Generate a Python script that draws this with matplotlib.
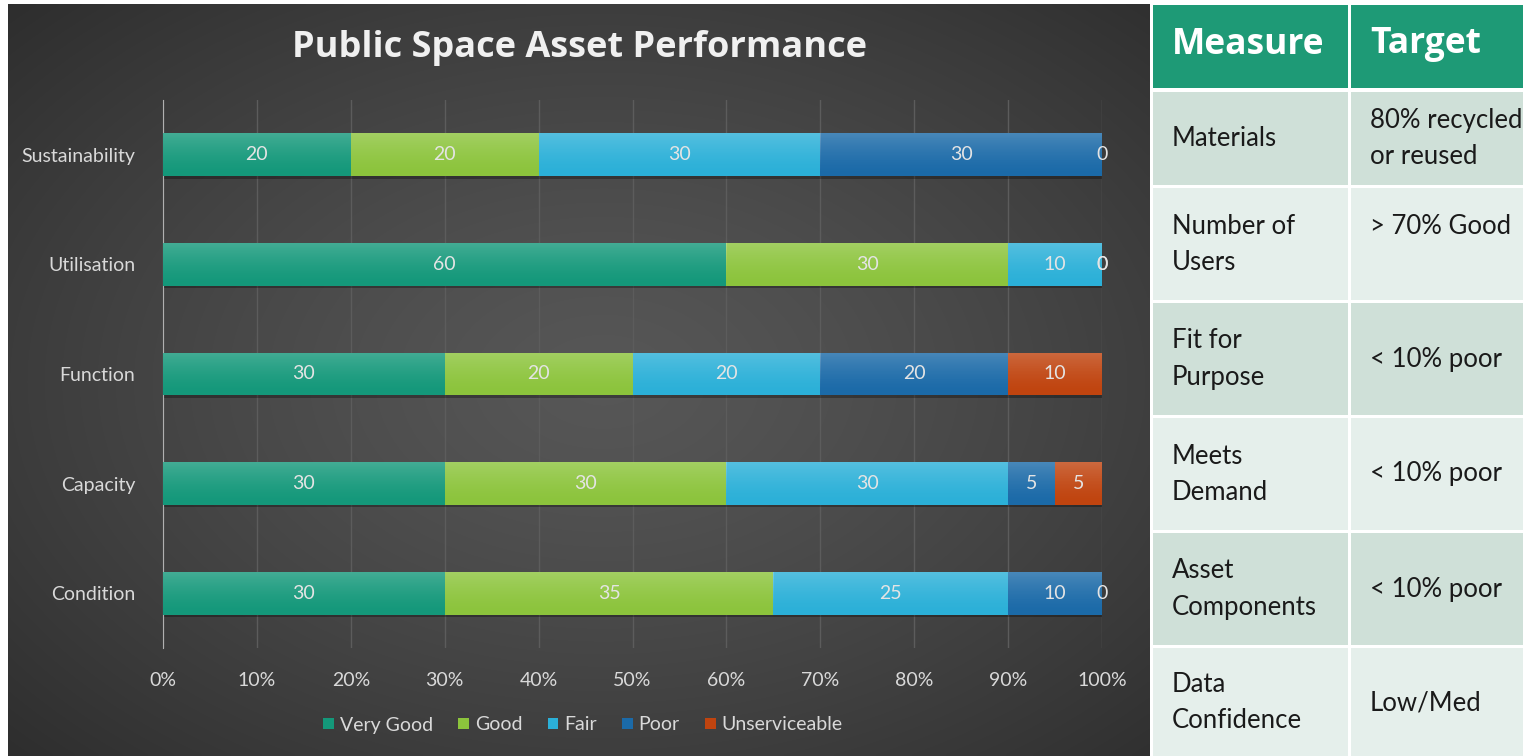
""" Public Space Asset Performance - stacked bar + targets table """

import numpy as np
import matplotlib.pyplot as plt
from matplotlib.patches import Rectangle


# * Datos del grafico
categorias = ['Sustainability', 'Utilisation', 'Function', 'Capacity', 'Condition']
very_good = [20, 60, 30, 30, 30]
good = [20, 30, 20, 30, 35]
fair = [30, 10, 20, 30, 25]
poor = [30, 0, 20, 5, 10]
unserviceable = [0, 0, 10, 5, 0]

series = ['Very Good', 'Good', 'Fair', 'Poor', 'Unserviceable']
colores = ['#14987a', '#8cc43c', '#2bb0d8', '#1b6aa8', '#c0440f']

ticks_x = [0, 10, 20, 30, 40, 50, 60, 70, 80, 90, 100]

# * Datos de la tabla
medidas = ['Materials', 'Number of\nUsers', 'Fit for\nPurpose', 'Meets\nDemand',
           'Asset\nComponents', 'Data\nConfidence']
objetivos = ['80% recycled\nor reused', '> 70% Good', '< 10% poor', '< 10% poor',
             '< 10% poor', 'Low/Med']
objetivo_arriba = [False, True, False, False, False, False]  # alineado con la 1a linea


W, H = 1523, 756
fig = plt.figure(figsize=(W / 100, H / 100), dpi=100, facecolor='white')

# * Fondo en coordenadas de pixel
bg = fig.add_axes([0, 0, 1, 1])
bg.set_xlim(0, W)
bg.set_ylim(H, 0)
bg.axis('off')

# gradiente radial del panel oscuro
px0, px1, py0, py1 = 8, 1150, 4, 756
yy, xx = np.mgrid[0:200, 0:300]
cx, cy = 300 * 0.52, 200 * 0.5
dist = np.sqrt(((xx - cx) / 300) ** 2 + ((yy - cy) / 200) ** 2)
dist = np.clip(dist / 0.72, 0, 1)
val = 0.34 - 0.16 * dist ** 1.3
img = np.dstack([val, val, val])
bg.imshow(img, extent=(px0, px1, py1, py0), aspect='auto', interpolation='bilinear', zorder=0)

# tabla
col_x = [1153, 1351]
col_w = [195, 180]
header_top, header_h = 5, 83
row_tops = [92, 188, 303, 418, 533, 648]
row_hs = [93, 112, 112, 112, 112, 110]
fill_rows = ['#cfe0d8', '#e5efeb']
interlinea = 1.55

for j, head in enumerate(['Measure', 'Target']):
    bg.add_patch(Rectangle((col_x[j], header_top), col_w[j], header_h,
                           facecolor='#1e9a76', edgecolor='none', zorder=1))
    bg.text(col_x[j] + 19, header_top + header_h / 2 - 2, head, color='white',
            fontsize=25.5, fontweight='bold', family='Open Sans', va='center', ha='left', zorder=2)

for i, (m, t) in enumerate(zip(medidas, objetivos)):
    for j, texto in enumerate([m, t]):
        bg.add_patch(Rectangle((col_x[j], row_tops[i]), col_w[j], row_hs[i],
                               facecolor=fill_rows[i % 2], edgecolor='none', zorder=1))
        yc = row_tops[i] + row_hs[i] / 2
        if j == 1 and objetivo_arriba[i]:
            yc = yc - 18
        bg.text(col_x[j] + 19, yc, texto, color='#1a1a1a',
                fontsize=18.5, family='Lato', va='center', ha='left',
                linespacing=interlinea, zorder=2)

bg.text(580, 48, 'Public Space Asset Performance', color='#f0f0f0', fontsize=26,
        fontweight='bold', family='Open Sans', ha='center', va='center', zorder=3)


# * Grafico de barras
ax = fig.add_axes([163 / W, (H - 648) / H, (1102 - 163) / W, (648 - 100) / H])
ax.set_facecolor('none')
ypos = np.arange(len(categorias))
alto = 0.39
izq = np.zeros(len(categorias))
valores = [very_good, good, fair, poor, unserviceable]

# sombra debajo de las barras
ax.barh(ypos + 0.022, [100] * len(categorias), height=alto, color='black', alpha=0.3, zorder=2)

brillo = np.linspace(1, 0, 64).reshape(-1, 1)
brillo_rgba = np.zeros((64, 1, 4))
brillo_rgba[..., :3] = 1.0
brillo_rgba[..., 3] = 0.2 * brillo ** 1.5

for nombre, vals, col in zip(series, valores, colores):
    barras = ax.barh(ypos, vals, left=izq, height=alto, color=col, label=nombre, zorder=3)
    for b in barras:
        if b.get_width() > 0:
            x0 = b.get_x()
            y0 = b.get_y()
            im = ax.imshow(brillo_rgba, extent=(x0, x0 + b.get_width(), y0 + alto, y0),
                           origin='upper', aspect='auto', interpolation='bilinear', zorder=3.5)
            im.set_clip_path(b)
    ax.bar_label(barras, labels=[str(v) for v in vals], label_type='center',
                 color='#e4e4e4', fontsize=14, family='Lato', zorder=4)
    izq = izq + np.array(vals)

ax.set_xlim(0, 100)
ax.set_ylim(len(categorias) - 0.5, -0.5)
ax.set_aspect('auto')
ax.set_xticks(ticks_x)
ax.set_xticklabels([f'{t}%' for t in ticks_x], color='#d9d9d9', fontsize=14, family='Lato')
ax.set_yticks(ypos)
ax.set_yticklabels(categorias, color='#d9d9d9', fontsize=14, family='Lato')
ax.tick_params(axis='x', length=0, pad=17)
ax.tick_params(axis='y', length=0, pad=20)
ax.grid(axis='x', color='#5c5c5c', linewidth=1, zorder=0)
for s in ['top', 'right', 'bottom']:
    ax.spines[s].set_visible(False)
ax.spines['left'].set_color('#b0b0b0')

leg = fig.legend(loc='center', bbox_to_anchor=(583 / W, (H - 725) / H), ncol=5, frameon=False,
                 handlelength=0.55, handleheight=0.55, handletextpad=0.3, columnspacing=1.3,
                 prop={'family': 'Lato', 'size': 14})
for t in leg.get_texts():
    t.set_color('#d9d9d9')

plt.savefig('out.png', dpi=100, facecolor='white')
